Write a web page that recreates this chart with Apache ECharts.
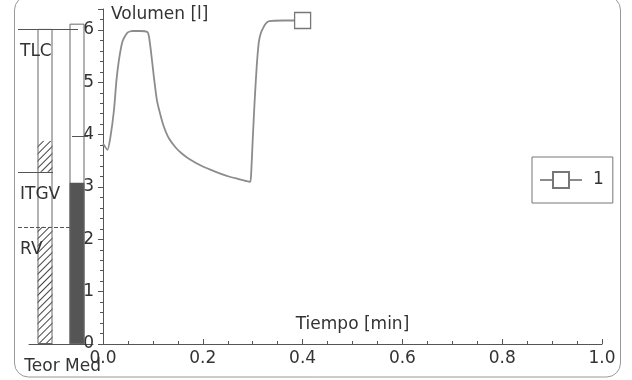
<!DOCTYPE html>
<html>
<head>
<meta charset="utf-8">
<script src="https://cdn.jsdelivr.net/npm/echarts@6/dist/echarts.min.js"></script>
<style>
html, body { margin: 0; background: #fff; }
#chart { width: 632px; height: 380px; }
</style>
</head>
<body>
<div id="chart"></div>
<script>
// volume trace
const timeMin = [0, 0.009, 0.015, 0.022, 0.027, 0.032, 0.039, 0.049, 0.059, 0.075, 0.089, 0.092, 0.096, 0.102, 0.108, 0.115, 0.122, 0.132, 0.146, 0.158, 0.172, 0.198, 0.226, 0.252, 0.272, 0.288, 0.295, 0.297, 0.300, 0.304, 0.308, 0.312, 0.316, 0.321, 0.327, 0.333, 0.36, 0.40]
const volume = [3.83, 3.71, 3.96, 4.47, 5.04, 5.43, 5.78, 5.95, 5.98, 5.98, 5.96, 5.88, 5.6, 5.1, 4.66, 4.38, 4.15, 3.93, 3.75, 3.64, 3.54, 3.40, 3.29, 3.20, 3.15, 3.11, 3.10, 3.27, 3.9, 4.66, 5.3, 5.75, 5.93, 6.04, 6.13, 6.17, 6.18, 6.18]

// side columns
const columns = ['Teor', 'Med']
const refNames = ['TLC', 'ITGV', 'RV']
const refTeor = [6.02, 3.29, 2.24]
const hatchBand = [3.29, 3.88]
const medValues = [6.12, 3.08]   // TLC, ITGV
const medMark = 3.97

const chart = echarts.init(document.getElementById('chart'))

const font = 'DejaVu Sans'
const ink = '#333'
const axisColor = '#555'

const hatch = {
	color: '#fff',
	decal: {
		symbol: 'rect',
		symbolSize: 1,
		dashArrayX: [1, 0],
		dashArrayY: [1, 4],
		rotation: -Math.PI / 4,
		color: '#444',
	},
}
const clear = { color: 'rgba(0,0,0,0)' }

const refLines = refNames.map((name, i) => [
	{ name: name, x: 18, yAxis: refTeor[i], lineStyle: { type: i === 2 ? 'dashed' : 'solid' } },
	{ x: i === 1 ? 53 : 78, yAxis: refTeor[i] },
])

const option = {
	animation: false,
	backgroundColor: '#fff',
	textStyle: { fontFamily: font },
	graphic: [
		{
			type: 'rect',
			silent: true,
			z: -10,
			shape: { x: 14.5, y: -4, width: 606, height: 381, r: 14 },
			style: { fill: 'none', stroke: '#999', lineWidth: 1 },
		},
	],
	legend: {
		data: ['1'],
		left: 532,
		top: 157,
		orient: 'vertical',
		itemWidth: 42,
		itemHeight: 20,
		padding: [14, 9, 14, 7],
		borderColor: '#777',
		borderWidth: 1,
		textStyle: { fontSize: 17, color: ink, fontFamily: font, padding: [0, 0, 0, 6] },
	},
	grid: [
		{ left: 103, right: 30, top: 9, bottom: 36 },
		{ left: 29, width: 64, top: 9, bottom: 36 },
	],
	xAxis: [
		{
			type: 'value',
			gridIndex: 0,
			min: 0,
			max: 1,
			interval: 0.2,
			name: 'Tiempo [min]',
			nameLocation: 'middle',
			nameGap: -19,
			nameTextStyle: { fontSize: 17, color: ink, verticalAlign: 'middle' },
			axisLine: { lineStyle: { color: axisColor } },
			axisTick: { inside: true, length: 5, lineStyle: { color: axisColor } },
			minorTick: { show: true, splitNumber: 4, length: 3, lineStyle: { color: axisColor } },
			axisLabel: { fontSize: 17, color: ink, margin: 6, formatter: (v) => v.toFixed(1) },
			splitLine: { show: false },
		},
		{
			type: 'category',
			gridIndex: 1,
			data: columns,
			axisLine: { lineStyle: { color: axisColor } },
			axisTick: { show: false },
			axisLabel: {
				interval: 0,
				fontSize: 17,
				color: ink,
				margin: 14,
				formatter: (v) => (v === 'Teor' ? '{a|' + v + '}' : '{b|' + v + '}'),
				rich: {
					a: { fontSize: 17, color: ink, padding: [0, 6, 0, 0] },
					b: { fontSize: 17, color: ink, padding: [0, 0, 0, 12] },
				},
			},
		},
	],
	yAxis: [
		{
			type: 'value',
			gridIndex: 0,
			min: 0,
			max: 6.4,
			interval: 1,
			name: 'Volumen [l]',
			nameLocation: 'end',
			nameGap: -6,
			nameTextStyle: { fontSize: 17, color: ink, align: 'left', verticalAlign: 'middle', padding: [0, 0, 0, 8] },
			axisLine: { show: true, lineStyle: { color: axisColor } },
			axisTick: { show: true, length: 5, lineStyle: { color: axisColor } },
			minorTick: { show: true, splitNumber: 5, length: 3, lineStyle: { color: axisColor } },
			axisLabel: { fontSize: 17, color: ink, margin: 9, showMaxLabel: false },
			splitLine: { show: false },
		},
		{
			type: 'value',
			gridIndex: 1,
			min: 0,
			max: 6.4,
			show: false,
		},
	],
	series: [
		{
			name: '1',
			type: 'line',
			xAxisIndex: 0,
			yAxisIndex: 0,
			data: timeMin.map((t, i) => [t, volume[i]]),
			smooth: 0.2,
			symbol: 'rect',
			symbolSize: (v, p) => (p.dataIndex === timeMin.length - 1 ? 16 : 0),
			lineStyle: { color: '#8c8c8c', width: 1.8 },
			itemStyle: { color: '#fff', borderColor: '#777', borderWidth: 1.3 },
			z: 3,
		},
		{
			name: 'base',
			type: 'bar',
			xAxisIndex: 1,
			yAxisIndex: 1,
			stack: 'col',
			barWidth: 15,
			barGap: '-100%',
			data: [
				{ value: refTeor[2], itemStyle: hatch },
				{ value: medValues[1], itemStyle: { color: '#555' } },
			],
		},
		{
			name: 'gap',
			type: 'bar',
			xAxisIndex: 1,
			yAxisIndex: 1,
			stack: 'col',
			barWidth: 15,
			barGap: '-100%',
			itemStyle: clear,
			data: [hatchBand[0] - refTeor[2], medValues[0] - medValues[1]],
		},
		{
			name: 'band',
			type: 'bar',
			xAxisIndex: 1,
			yAxisIndex: 1,
			stack: 'col',
			barWidth: 15,
			barGap: '-100%',
			data: [{ value: hatchBand[1] - hatchBand[0], itemStyle: hatch }, '-'],
		},
		{
			name: 'outline',
			type: 'bar',
			xAxisIndex: 1,
			yAxisIndex: 1,
			barWidth: 15,
			barGap: '-100%',
			z: 4,
			itemStyle: { color: 'rgba(0,0,0,0)', borderColor: '#666', borderWidth: 1 },
			data: [refTeor[0], medValues[0]],
			markLine: {
				silent: true,
				symbol: 'none',
				lineStyle: { color: '#555', width: 1, type: 'solid' },
				label: {
					show: true,
					position: 'insideStartBottom',
					formatter: '{b}',
					fontSize: 17,
					color: ink,
					fontFamily: font,
					distance: [2, 14],
				},
				data: refLines.concat([
					[
						{ name: '', x: 72, yAxis: medMark, label: { show: false } },
						{ x: 88, yAxis: medMark },
					],
				]),
			},
		},
	],
}

chart.setOption(option)
</script>
</body>
</html>
